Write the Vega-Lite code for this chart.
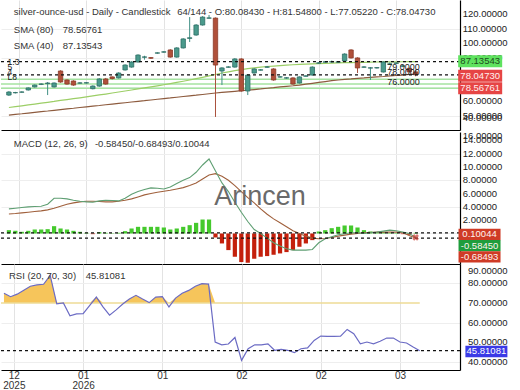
{
"$schema":"https://vega.github.io/schema/vega-lite/v6.json",
"padding":0,
"background":"white",
"spacing":0,
"config":{"view":{"stroke":null},"font":"Liberation Sans","axis":{"labelFont":"Liberation Sans"}},
"datasets":{"bars":[
{"i":0,"o":64.1,"h":66.8,"l":63.5,"c":66.2,"s40":55.5,"s80":50.3,"m":3.7,"sg":2.93,"hi":0.5,"r":75.0,"rh":75.0},
{"i":1,"o":65.7,"h":66.3,"l":65.2,"c":65.8,"s40":56.1,"s80":50.8,"m":3.8,"sg":3.0,"hi":0.4,"r":73.2,"rh":73.2},
{"i":2,"o":66.1,"h":66.7,"l":65.7,"c":66.2,"s40":56.7,"s80":51.2,"m":3.9,"sg":3.1,"hi":0.25,"r":74.5,"rh":74.5},
{"i":3,"o":67.6,"h":69.4,"l":67.2,"c":69.0,"s40":57.3,"s80":51.7,"m":4.0,"sg":3.2,"hi":0.4,"r":76.5,"rh":76.5},
{"i":4,"o":69.7,"h":71.4,"l":69.3,"c":71.0,"s40":57.9,"s80":52.2,"m":4.05,"sg":3.3,"hi":0.6,"r":78.5,"rh":78.5},
{"i":5,"o":71.5,"h":72.2,"l":71.0,"c":71.7,"s40":58.5,"s80":52.7,"m":4.1,"sg":3.4,"hi":0.6,"r":79.2,"rh":79.2},
{"i":6,"o":72.0,"h":73.1,"l":64.1,"c":72.4,"s40":59.1,"s80":53.1,"m":4.4,"sg":3.55,"hi":0.65,"r":79.5,"rh":79.5},
{"i":7,"o":69.7,"h":72.8,"l":69.3,"c":72.4,"s40":59.7,"s80":53.6,"m":5.3,"sg":3.8,"hi":1.1,"r":84.0,"rh":84.0},
{"i":8,"o":80.7,"h":81.2,"l":72.6,"c":73.1,"s40":60.4,"s80":54.1,"m":5.3,"sg":4.1,"hi":0.75,"r":69.6,"rh":70},
{"i":9,"o":74.5,"h":75.0,"l":71.2,"c":71.7,"s40":61.0,"s80":54.6,"m":5.2,"sg":4.4,"hi":0.6,"r":70.0,"rh":70},
{"i":10,"o":73.8,"h":74.3,"l":70.5,"c":71.0,"s40":61.6,"s80":55.0,"m":5.0,"sg":4.6,"hi":0.4,"r":63.5,"rh":70},
{"i":11,"o":72.3,"h":73.0,"l":71.9,"c":72.5,"s40":62.2,"s80":55.5,"m":4.85,"sg":4.75,"hi":0.25,"r":64.5,"rh":70},
{"i":12,"o":72.4,"h":73.0,"l":72.0,"c":72.6,"s40":62.9,"s80":56.0,"m":4.75,"sg":4.85,"hi":0.1,"r":64.6,"rh":70},
{"i":13,"o":68.5,"h":70.8,"l":68.0,"c":70.3,"s40":63.5,"s80":56.5,"m":4.7,"sg":4.85,"hi":-0.1,"r":68.8,"rh":70},
{"i":14,"o":70.3,"h":75.8,"l":69.8,"c":75.2,"s40":64.2,"s80":56.9,"m":4.9,"sg":4.8,"hi":0.2,"r":73.0,"rh":73.0},
{"i":15,"o":75.2,"h":75.9,"l":71.2,"c":71.7,"s40":64.8,"s80":57.4,"m":5.0,"sg":4.75,"hi":0.1,"r":68.0,"rh":70},
{"i":16,"o":76.6,"h":77.0,"l":74.8,"c":75.5,"s40":65.5,"s80":57.9,"m":4.95,"sg":4.75,"hi":0.05,"r":63.8,"rh":70},
{"i":17,"o":75.9,"h":79.8,"l":75.5,"c":79.3,"s40":66.2,"s80":58.4,"m":4.9,"sg":4.85,"hi":0.1,"r":66.5,"rh":70},
{"i":18,"o":81.4,"h":85.3,"l":81.0,"c":84.8,"s40":66.9,"s80":58.8,"m":5.3,"sg":5.0,"hi":0.35,"r":69.5,"rh":70},
{"i":19,"o":83.4,"h":87.4,"l":83.0,"c":86.9,"s40":67.6,"s80":59.3,"m":5.9,"sg":5.2,"hi":0.75,"r":72.0,"rh":72.0},
{"i":20,"o":86.9,"h":92.2,"l":86.5,"c":91.7,"s40":68.3,"s80":59.8,"m":6.3,"sg":5.5,"hi":1.0,"r":73.9,"rh":73.9},
{"i":21,"o":90.2,"h":91.2,"l":88.5,"c":90.4,"s40":69.0,"s80":60.2,"m":6.6,"sg":5.8,"hi":1.0,"r":72.0,"rh":72.0},
{"i":22,"o":89.9,"h":90.3,"l":89.0,"c":89.5,"s40":69.7,"s80":60.7,"m":6.85,"sg":6.0,"hi":1.0,"r":70.2,"rh":70.2},
{"i":23,"o":93.0,"h":93.6,"l":92.6,"c":93.2,"s40":70.4,"s80":61.2,"m":6.8,"sg":6.2,"hi":1.0,"r":73.0,"rh":73.0},
{"i":24,"o":93.7,"h":94.4,"l":93.3,"c":93.9,"s40":71.2,"s80":61.7,"m":6.7,"sg":6.35,"hi":0.9,"r":73.2,"rh":73.2},
{"i":25,"o":95.2,"h":95.7,"l":89.9,"c":90.3,"s40":72.0,"s80":62.1,"m":7.0,"sg":6.5,"hi":0.6,"r":68.0,"rh":70},
{"i":26,"o":90.3,"h":97.1,"l":89.9,"c":96.6,"s40":72.8,"s80":62.6,"m":7.5,"sg":6.7,"hi":0.75,"r":72.5,"rh":72.5},
{"i":27,"o":96.6,"h":103.3,"l":96.2,"c":102.8,"s40":73.6,"s80":63.1,"m":8.0,"sg":6.9,"hi":1.0,"r":75.0,"rh":75.0},
{"i":28,"o":103.2,"h":117.9,"l":100.7,"c":103.6,"s40":74.5,"s80":63.6,"m":8.4,"sg":7.2,"hi":1.25,"r":76.4,"rh":76.4},
{"i":29,"o":105.5,"h":113.0,"l":105.0,"c":112.4,"s40":75.4,"s80":64.0,"m":9.2,"sg":7.6,"hi":1.6,"r":78.5,"rh":78.5},
{"i":30,"o":112.4,"h":118.5,"l":112.0,"c":117.9,"s40":76.3,"s80":64.5,"m":10.3,"sg":8.2,"hi":2.1,"r":79.8,"rh":79.8},
{"i":31,"o":117.1,"h":119.3,"l":116.8,"c":117.3,"s40":77.3,"s80":65.0,"m":11.2,"sg":8.8,"hi":2.1,"r":79.6,"rh":79.6},
{"i":32,"o":117.2,"h":117.6,"l":49.0,"c":84.8,"s40":78.3,"s80":65.5,"m":9.4,"sg":9.0,"hi":-0.6,"r":50.2,"rh":70},
{"i":33,"o":80.7,"h":83.3,"l":71.0,"c":82.8,"s40":79.3,"s80":65.9,"m":7.6,"sg":8.6,"hi":-1.5,"r":48.8,"rh":70},
{"i":34,"o":83.3,"h":84.0,"l":83.0,"c":83.5,"s40":80.1,"s80":66.3,"m":6.3,"sg":8.0,"hi":-2.5,"r":49.2,"rh":70},
{"i":35,"o":83.4,"h":89.6,"l":83.0,"c":89.0,"s40":80.9,"s80":66.7,"m":4.7,"sg":7.2,"hi":-3.5,"r":52.5,"rh":70},
{"i":36,"o":89.0,"h":89.5,"l":66.4,"c":66.9,"s40":81.6,"s80":67.1,"m":3.2,"sg":6.3,"hi":-4.3,"r":40.9,"rh":70},
{"i":37,"o":66.9,"h":78.4,"l":64.1,"c":77.9,"s40":82.3,"s80":67.5,"m":1.8,"sg":5.4,"hi":-4.4,"r":46.8,"rh":70},
{"i":38,"o":79.3,"h":82.6,"l":78.9,"c":82.1,"s40":82.9,"s80":67.9,"m":0.6,"sg":4.6,"hi":-3.8,"r":48.8,"rh":70},
{"i":39,"o":81.3,"h":82.0,"l":81.0,"c":81.5,"s40":83.4,"s80":68.3,"m":0.0,"sg":3.7,"hi":-3.5,"r":48.8,"rh":70},
{"i":40,"o":83.3,"h":84.2,"l":82.9,"c":83.5,"s40":83.8,"s80":68.8,"m":-0.7,"sg":2.9,"hi":-3.4,"r":49.3,"rh":70},
{"i":41,"o":82.1,"h":82.6,"l":74.0,"c":74.5,"s40":84.1,"s80":69.2,"m":-1.4,"sg":2.2,"hi":-3.2,"r":46.0,"rh":70},
{"i":42,"o":76.5,"h":77.2,"l":76.1,"c":76.7,"s40":84.4,"s80":69.7,"m":-1.9,"sg":1.6,"hi":-3.0,"r":46.5,"rh":70},
{"i":43,"o":75.8,"h":76.4,"l":75.4,"c":76.0,"s40":84.7,"s80":70.1,"m":-2.3,"sg":1.0,"hi":-2.8,"r":46.0,"rh":70},
{"i":44,"o":75.9,"h":76.4,"l":71.2,"c":71.7,"s40":85.0,"s80":70.5,"m":-2.5,"sg":0.4,"hi":-2.5,"r":44.8,"rh":70},
{"i":45,"o":72.4,"h":77.0,"l":72.0,"c":76.6,"s40":85.2,"s80":71.0,"m":-2.5,"sg":0.0,"hi":-2.0,"r":46.8,"rh":70},
{"i":46,"o":77.1,"h":77.8,"l":76.8,"c":77.3,"s40":85.4,"s80":71.6,"m":-2.5,"sg":-0.4,"hi":-1.5,"r":47.2,"rh":70},
{"i":47,"o":77.9,"h":83.9,"l":77.5,"c":83.4,"s40":85.6,"s80":72.2,"m":-2.4,"sg":-0.7,"hi":-1.0,"r":51.0,"rh":70},
{"i":48,"o":86.1,"h":86.8,"l":85.7,"c":86.3,"s40":85.8,"s80":72.8,"m":-1.4,"sg":-0.8,"hi":0.3,"r":53.2,"rh":70},
{"i":49,"o":86.8,"h":87.5,"l":86.4,"c":87.0,"s40":86.0,"s80":73.4,"m":-0.8,"sg":-0.75,"hi":0.5,"r":53.1,"rh":70},
{"i":50,"o":86.9,"h":87.9,"l":86.5,"c":87.1,"s40":86.1,"s80":74.0,"m":-0.5,"sg":-0.6,"hi":0.8,"r":53.1,"rh":70},
{"i":51,"o":86.8,"h":87.5,"l":86.4,"c":87.0,"s40":86.3,"s80":74.5,"m":-0.2,"sg":-0.4,"hi":1.0,"r":53.2,"rh":70},
{"i":52,"o":87.6,"h":92.9,"l":87.2,"c":92.4,"s40":86.4,"s80":74.9,"m":-0.05,"sg":-0.25,"hi":1.2,"r":56.6,"rh":70},
{"i":53,"o":95.2,"h":95.7,"l":89.3,"c":89.7,"s40":86.5,"s80":75.2,"m":0.1,"sg":-0.1,"hi":1.2,"r":54.4,"rh":70},
{"i":54,"o":89.7,"h":90.1,"l":79.3,"c":82.8,"s40":86.6,"s80":75.6,"m":0.1,"sg":0.0,"hi":0.9,"r":49.3,"rh":70},
{"i":55,"o":83.3,"h":84.0,"l":83.0,"c":83.5,"s40":86.7,"s80":75.9,"m":0.0,"sg":0.1,"hi":0.5,"r":50.2,"rh":70},
{"i":56,"o":82.7,"h":83.4,"l":74.5,"c":82.9,"s40":86.8,"s80":76.3,"m":0.1,"sg":0.15,"hi":0.3,"r":49.3,"rh":70},
{"i":57,"o":82.8,"h":83.4,"l":82.4,"c":83.0,"s40":86.9,"s80":76.6,"m":0.2,"sg":0.2,"hi":0.2,"r":50.6,"rh":70},
{"i":58,"o":80.0,"h":87.4,"l":79.6,"c":86.9,"s40":86.95,"s80":76.9,"m":0.35,"sg":0.2,"hi":0.2,"r":52.2,"rh":70},
{"i":59,"o":85.4,"h":86.6,"l":85.0,"c":85.6,"s40":87.0,"s80":77.3,"m":0.5,"sg":0.2,"hi":0.1,"r":52.2,"rh":70},
{"i":60,"o":86.0,"h":86.8,"l":85.5,"c":86.2,"s40":87.05,"s80":77.6,"m":0.4,"sg":0.2,"hi":0.1,"r":50.2,"rh":70},
{"i":61,"o":84.0,"h":84.8,"l":83.3,"c":84.2,"s40":87.08,"s80":77.9,"m":0.2,"sg":0.1,"hi":-0.1,"r":49.7,"rh":70},
{"i":62,"o":82.5,"h":83.0,"l":79.8,"c":80.1,"s40":87.11,"s80":78.3,"m":0.0,"sg":-0.3,"hi":-0.2,"r":47.7,"rh":70},
{"i":63,"o":80.0843,"h":81.548,"l":77.0522,"c":78.0473,"s40":87.13543,"s80":78.56761,"m":-0.5845,"sg":-0.68493,"hi":0.10044,"r":45.81081,"rh":70}
]},
"vconcat":[
{"width":459,"height":130,"data":{"name":"bars"},
 "layer":[
  {"data":{"values":[{"v":75.0},{"v":71.7},{"v":68.8}]},"mark":{"type":"rule","color":"#a6e3a1","strokeWidth":1.5},
   "encoding":{"y":{"field":"v","type":"quantitative","title":null,"scale":{"domain":[40,129.66],"nice":false,"zero":false},
     "axis":{"orient":"right","values":[50,60,70,80,90,100,110,120],"labels":false,"ticks":false,"domainColor":"#000","domainWidth":1.2,"grid":true,"gridColor":"#eeeeee","title":null}}}},
  {"data":{"values":[{"v":120},{"v":110},{"v":100},{"v":90},{"v":60},{"v":50},{"v":48.3,"t":"40.00000"}]},
   "mark":{"type":"text","align":"left","baseline":"middle","fontSize":9.5,"color":"#222"},
   "encoding":{"x":{"datum":70.3},"y":{"field":"v","type":"quantitative","title":null},
    "text":{"condition":{"test":"datum.t","field":"t"},"field":"v","type":"quantitative","format":".5f"}}},
  {"mark":{"type":"line","color":"#8d5b3e","strokeWidth":1.2},
   "encoding":{"x":{"field":"i","type":"quantitative","title":null,"scale":{"domain":[-0.45,69.1],"nice":false,"zero":false},
     "axis":{"values":[1.5,12,24,36,48,60],"labels":false,"ticks":false,"domainColor":"#000","domainWidth":1.2,"grid":true,"gridColor":"#e3e3e3","title":null}},
    "y":{"field":"s80","type":"quantitative","title":null}}},
  {"mark":{"type":"line","color":"#9cce66","strokeWidth":1.2},
   "encoding":{"x":{"field":"i","type":"quantitative","title":null},"y":{"field":"s40","type":"quantitative","title":null}}},
  {"mark":{"type":"rule","strokeWidth":1},
   "encoding":{"x":{"field":"i","type":"quantitative","title":null},"y":{"field":"l","type":"quantitative","title":null},"y2":{"field":"h"},
    "color":{"condition":{"test":"datum.c >= datum.o","value":"#3f8f84"},"value":"#a9503c"}}},
  {"mark":{"type":"bar","size":4.4,"strokeWidth":0.8},
   "encoding":{"x":{"field":"i","type":"quantitative","title":null},"y":{"field":"o","type":"quantitative","title":null},"y2":{"field":"c"},
    "fill":{"condition":{"test":"datum.c >= datum.o","value":"#4a9a8c"},"value":"#b0503a"},
    "stroke":{"condition":{"test":"datum.c >= datum.o","value":"#2f6f66"},"value":"#8a3a28"}}},
  {"data":{"values":[{"v":87.13543},{"v":78.0473}]},"mark":{"type":"rule","strokeDash":[3,3],"color":"#111","strokeWidth":1.2},
   "encoding":{"y":{"field":"v","type":"quantitative","title":null}}},
  {"data":{"values":[{}]},"mark":{"type":"text","text":"silver-ounce-usd - Daily - Candlestick","align":"left","baseline":"middle","fontSize":9.5,"color":"#333"},
   "encoding":{"x":{"datum":0.76},"y":{"datum":121.4}}},
  {"data":{"values":[{}]},"mark":{"type":"text","text":"64/144 - O:80.08430 - H:81.54800 - L:77.05220 - C:78.04730","align":"left","baseline":"middle","fontSize":9.5,"color":"#333"},
   "encoding":{"x":{"datum":26.06},"y":{"datum":121.4}}},
  {"data":{"values":[{}]},"mark":{"type":"text","text":"SMA (80)","align":"left","baseline":"middle","fontSize":9.5,"color":"#333"},
   "encoding":{"x":{"datum":0.76},"y":{"datum":109.3}}},
  {"data":{"values":[{}]},"mark":{"type":"text","text":"78.56761","align":"left","baseline":"middle","fontSize":9.5,"color":"#333"},
   "encoding":{"x":{"datum":8.33},"y":{"datum":109.3}}},
  {"data":{"values":[{}]},"mark":{"type":"text","text":"SMA (40)","align":"left","baseline":"middle","fontSize":9.5,"color":"#333"},
   "encoding":{"x":{"datum":0.76},"y":{"datum":97.9}}},
  {"data":{"values":[{}]},"mark":{"type":"text","text":"87.13543","align":"left","baseline":"middle","fontSize":9.5,"color":"#333"},
   "encoding":{"x":{"datum":8.33},"y":{"datum":97.9}}},
  {"data":{"values":[{"t":"1.3","v":86.6},{"t":"5","v":83.6},{"t":"4","v":80.2},{"t":"L8","v":76.4}]},
   "mark":{"type":"text","align":"left","baseline":"middle","fontSize":8.5,"color":"#222"},
   "encoding":{"x":{"datum":-0.2},"y":{"field":"v","type":"quantitative","title":null},"text":{"field":"t"}}},
  {"data":{"values":[{"t":"79.0000","v":83.4},{"t":"78.0000","v":80.0},{"t":"76.0000","v":73.4}]},
   "mark":{"type":"text","align":"left","baseline":"middle","fontSize":9,"color":"#222"},
   "encoding":{"x":{"datum":58.6},"y":{"field":"v","type":"quantitative","title":null},"text":{"field":"t"}}},
  {"data":{"values":[{"v":87.4,"t":"87.13543","k":"g"},{"v":77.4,"t":"78.04730","k":"r"},{"v":68.8,"t":"78.56761","k":"r"}]},
   "layer":[
    {"mark":{"type":"point","shape":"M-1,-0.27H1V0.27H-1Z","size":1936,"filled":true,"opacity":1},
     "encoding":{"x":{"datum":73.0},"y":{"field":"v","type":"quantitative","title":null},
      "color":{"condition":{"test":"datum.k == 'g'","value":"#5fe25f"},"value":"#e64545"}}},
    {"mark":{"type":"text","fontSize":9.5,"baseline":"middle","align":"center"},
     "encoding":{"x":{"datum":73.0},"y":{"field":"v","type":"quantitative","title":null},"text":{"field":"t"},
      "color":{"condition":{"test":"datum.k == 'g'","value":"#1d4d1d"},"value":"#fff0f0"}}}
   ]}
 ]},
{"width":459,"height":132,"data":{"name":"bars"},
 "layer":[
  {"mark":{"type":"bar","size":4.2},
   "encoding":{"x":{"field":"i","type":"quantitative","title":null,"scale":{"domain":[-0.45,69.1],"nice":false,"zero":false},
     "axis":{"values":[1.5,12,24,36,48,60],"labels":false,"ticks":false,"domainColor":"#000","domainWidth":1.2,"grid":true,"gridColor":"#e3e3e3","title":null}},
    "y":{"field":"hi","type":"quantitative","title":null,"scale":{"domain":[-4.59,15.26],"nice":false,"zero":false},
     "axis":{"orient":"right","values":[0,2,4,6,8,10,12,14],"labels":false,"ticks":false,"domainColor":"#000","domainWidth":1.2,"grid":true,"gridColor":"#eeeeee","title":null}},
    "y2":{"datum":0},
    "color":{"condition":{"test":"datum.hi >= 0","value":"#45c92d"},"value":"#c4200c"}}},
  {"data":{"values":[{"v":14.7,"t":"16.00000"},{"v":14},{"v":12},{"v":10},{"v":8},{"v":6},{"v":4},{"v":2}]},
   "mark":{"type":"text","align":"left","baseline":"middle","fontSize":9.5,"color":"#222"},
   "encoding":{"x":{"datum":70.3},"y":{"field":"v","type":"quantitative","title":null},
    "text":{"condition":{"test":"datum.t","field":"t"},"field":"v","type":"quantitative","format":".5f"}}},
  {"mark":{"type":"line","color":"#a0603c","strokeWidth":1.1},
   "encoding":{"x":{"field":"i","type":"quantitative","title":null},"y":{"field":"sg","type":"quantitative","title":null}}},
  {"mark":{"type":"line","color":"#5f9f73","strokeWidth":1.1},
   "encoding":{"x":{"field":"i","type":"quantitative","title":null},"y":{"field":"m","type":"quantitative","title":null}}},
  {"data":{"values":[{"v":0.10044},{"v":-0.68493}]},"mark":{"type":"rule","strokeDash":[3,3],"color":"#111","strokeWidth":1.2},
   "encoding":{"y":{"field":"v","type":"quantitative","title":null}}},
  {"data":{"values":[{}]},"mark":{"type":"point","shape":"cross","angle":45,"size":45,"filled":true,"color":"#c83a30"},
   "encoding":{"x":{"datum":63},"y":{"datum":-0.5845}}},
  {"data":{"values":[{}]},"mark":{"type":"text","text":"Arincen","align":"center","baseline":"middle","fontSize":27,"color":"#6a6a6a"},
   "encoding":{"x":{"datum":38.9},"y":{"datum":5.5}}},
  {"data":{"values":[{}]},"mark":{"type":"text","text":"MACD (12, 26, 9)","align":"left","baseline":"middle","fontSize":9.5,"color":"#333"},
   "encoding":{"x":{"datum":0.76},"y":{"datum":13.4}}},
  {"data":{"values":[{}]},"mark":{"type":"text","text":"-0.58450/-0.68493/0.10044","align":"left","baseline":"middle","fontSize":9.5,"color":"#333"},
   "encoding":{"x":{"datum":13.33},"y":{"datum":13.4}}},
  {"data":{"values":[{"v":-0.15,"t":"0.10044","k":"r"},{"v":-1.83,"t":"-0.58450","k":"g"},{"v":-3.53,"t":"-0.68493","k":"r"}]},
   "layer":[
    {"mark":{"type":"point","shape":"M-1,-0.27H1V0.27H-1Z","size":1764,"filled":true,"opacity":1},
     "encoding":{"x":{"datum":72.9},"y":{"field":"v","type":"quantitative","title":null},
      "color":{"condition":{"test":"datum.k == 'g'","value":"#1f9d3c"},"value":"#cf3b26"}}},
    {"mark":{"type":"text","fontSize":9.5,"baseline":"middle","align":"center","color":"#fff4f0"},
     "encoding":{"x":{"datum":72.9},"y":{"field":"v","type":"quantitative","title":null},"text":{"field":"t"}}}
   ]}
 ]},
{"width":459,"height":106,"data":{"name":"bars"},
 "layer":[
  {"mark":{"type":"area","color":"#f6c55b","opacity":1},
   "encoding":{"x":{"field":"i","type":"quantitative","title":null,"scale":{"domain":[-0.45,69.1],"nice":false,"zero":false},
     "axis":{"values":[1.5,12,24,36,48,60],"ticks":false,"labelFlush":false,"domainColor":"#000","domainWidth":1.2,"grid":true,"gridColor":"#e3e3e3","title":null,
      "labelExpr":"datum.value == 1.5 ? ['12','2025'] : datum.value == 12 ? ['01','2026'] : datum.value == 24 ? '01' : datum.value == 36 ? '02' : datum.value == 48 ? '02' : '03'",
      "labelFontSize":10,"labelColor":"#333","labelPadding":0,"labelLineHeight":10.5}},
    "y":{"field":"rh","type":"quantitative","title":null,"scale":{"domain":[36.0,89.8],"nice":false,"zero":false},
     "axis":{"orient":"right","values":[40,50,60,70,80],"labels":false,"ticks":false,"domainColor":"#000","domainWidth":1.2,"grid":true,"gridColor":"#eeeeee","title":null}},
    "y2":{"datum":70}}},
  {"data":{"values":[{"v":86.2,"t":"90.00000"},{"v":80},{"v":70},{"v":60},{"v":50},{"v":40}]},
   "mark":{"type":"text","align":"left","baseline":"middle","fontSize":9.5,"color":"#222"},
   "encoding":{"x":{"datum":70.3},"y":{"field":"v","type":"quantitative","title":null},
    "text":{"condition":{"test":"datum.t","field":"t"},"field":"v","type":"quantitative","format":".5f"}}},
  {"data":{"values":[{}]},"mark":{"type":"rule","color":"#eedb96","strokeWidth":1.5},
   "encoding":{"x":{"datum":-0.45},"x2":{"datum":63},"y":{"datum":70}}},
  {"mark":{"type":"line","color":"#6b6bc4","strokeWidth":1.2},
   "encoding":{"x":{"field":"i","type":"quantitative","title":null},"y":{"field":"r","type":"quantitative","title":null}}},
  {"data":{"values":[{"v":45.81081}]},"mark":{"type":"rule","strokeDash":[3,3],"color":"#111","strokeWidth":1.2},
   "encoding":{"y":{"field":"v","type":"quantitative","title":null}}},
  {"data":{"values":[{}]},"mark":{"type":"text","text":"RSI (20, 70, 30)","align":"left","baseline":"middle","fontSize":9.5,"color":"#333"},
   "encoding":{"x":{"datum":0.76},"y":{"datum":83.7}}},
  {"data":{"values":[{}]},"mark":{"type":"text","text":"45.81081","align":"left","baseline":"middle","fontSize":9.5,"color":"#333"},
   "encoding":{"x":{"datum":12.4},"y":{"datum":83.7}}},
  {"data":{"values":[{"v":45.4,"t":"45.81081"}]},
   "layer":[
    {"mark":{"type":"point","shape":"M-1,-0.27H1V0.27H-1Z","size":1764,"filled":true,"opacity":1,"color":"#3a3ae6"},
     "encoding":{"x":{"datum":73.1},"y":{"field":"v","type":"quantitative","title":null}}},
    {"mark":{"type":"text","fontSize":9.5,"baseline":"middle","align":"center","color":"#ffffff"},
     "encoding":{"x":{"datum":73.1},"y":{"field":"v","type":"quantitative","title":null},"text":{"field":"t"}}}
   ]}
 ]}
]
}
